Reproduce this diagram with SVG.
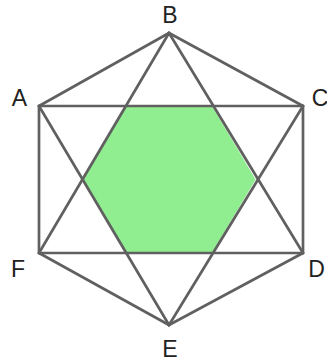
<svg xmlns="http://www.w3.org/2000/svg" width="327" height="363" viewBox="0 0 327 363">
<style>
.edge{stroke:#606060;stroke-width:2.7;fill:none;stroke-linecap:round;stroke-linejoin:round}
.lbl{font-family:"Liberation Sans",Arial,sans-serif;font-size:23px;fill:#222;text-anchor:middle}
</style>
<rect width="327" height="363" fill="#fff"/>
<g id="hexagon-fill">
<polygon points="126,106 212,106 255.6,179.5 212,253 126,253 82.4,179.5" fill="#90EE90"/>
</g>
<g id="connectors">
<line class="edge" x1="39" y1="106" x2="169" y2="33"/>
<line class="edge" x1="169" y1="33" x2="303" y2="106"/>
<line class="edge" x1="303" y1="106" x2="303" y2="253"/>
<line class="edge" x1="303" y1="253" x2="169" y2="325"/>
<line class="edge" x1="169" y1="325" x2="39" y2="253"/>
<line class="edge" x1="39" y1="253" x2="39" y2="106"/>
<line class="edge" x1="39" y1="106" x2="303" y2="106"/>
<line class="edge" x1="303" y1="106" x2="169" y2="325"/>
<line class="edge" x1="169" y1="325" x2="39" y2="106"/>
<line class="edge" x1="169" y1="33" x2="303" y2="253"/>
<line class="edge" x1="303" y1="253" x2="39" y2="253"/>
<line class="edge" x1="39" y1="253" x2="169" y2="33"/>
</g>
<g id="node-B"><text class="lbl" x="170" y="23">B</text></g>
<g id="node-A"><text class="lbl" x="19.5" y="106">A</text></g>
<g id="node-C"><text class="lbl" x="320" y="106">C</text></g>
<g id="node-F"><text class="lbl" x="18" y="277">F</text></g>
<g id="node-D"><text class="lbl" x="316.5" y="277">D</text></g>
<g id="node-E"><text class="lbl" x="170" y="357">E</text></g>
</svg>
